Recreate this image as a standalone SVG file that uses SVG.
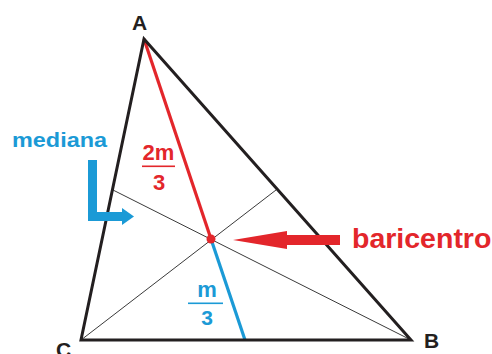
<svg xmlns="http://www.w3.org/2000/svg" width="492" height="354" viewBox="0 0 492 354">
<style>
.lbl{font-family:"Liberation Sans",Arial,sans-serif;font-weight:bold}
.blk{fill:#231f20}
.red{fill:#e3262b}
.blu{fill:#1b9ad6}
.tri{fill:none;stroke:#231f20;stroke-width:3;stroke-linejoin:miter}
.thin{stroke:#3a3a3a;stroke-width:1}
</style>
<rect width="492" height="354" fill="#ffffff"/>
<g id="connectors">
<line class="thin" x1="81" y1="340" x2="276" y2="190"/>
<line class="thin" x1="411" y1="340" x2="113" y2="190"/>
<line x1="144" y1="39" x2="211" y2="239" stroke="#e3262b" stroke-width="3.2"/>
<line x1="211" y1="239" x2="245" y2="340" stroke="#1b9ad6" stroke-width="3.2"/>
</g>
<g id="triangle">
<polygon class="tri" points="144,39 411,340 81,340"/>
</g>
<g id="centroid">
<circle cx="211" cy="239" r="4.5" fill="#e3262b"/>
</g>
<g id="vertex-A"><text class="lbl blk" x="132" y="30" font-size="21">A</text></g>
<g id="vertex-B"><text class="lbl blk" x="424" y="348" font-size="21">B</text></g>
<g id="vertex-C"><text class="lbl blk" x="56" y="357" font-size="21">C</text></g>
<g id="label-2m3">
<text class="lbl red" x="158.5" y="160" font-size="22" text-anchor="middle">2m</text>
<rect x="142" y="165.5" width="33" height="1.6" fill="#e3262b"/>
<text class="lbl red" x="159" y="190" font-size="22" text-anchor="middle">3</text>
</g>
<g id="label-m3">
<text class="lbl blu" x="207" y="297" font-size="22" text-anchor="middle">m</text>
<rect x="188" y="302.5" width="35" height="1.6" fill="#1b9ad6"/>
<text class="lbl blu" x="207" y="325" font-size="21" text-anchor="middle">3</text>
</g>
<g id="mediana">
<text class="lbl blu" x="12" y="147" font-size="20" textLength="95" lengthAdjust="spacingAndGlyphs">mediana</text>
<polyline points="92.5,160 92.5,216.5 123,216.5" fill="none" stroke="#1b9ad6" stroke-width="9"/>
<polygon points="122,208 134,216.5 122,225" fill="#1b9ad6"/>
</g>
<g id="baricentro">
<text class="lbl red" x="352" y="248" font-size="28.5">baricentro</text>
<rect x="286" y="235" width="54" height="10" fill="#e3262b"/>
<polygon points="287,231 287,249 233,240" fill="#e3262b"/>
</g>
</svg>
